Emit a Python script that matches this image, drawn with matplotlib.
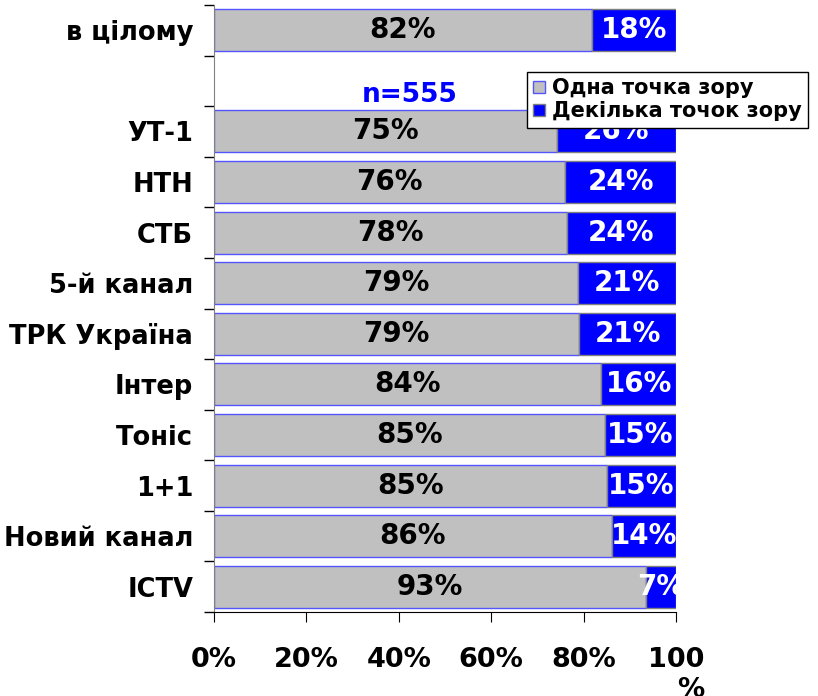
import matplotlib.pyplot as plt
import numpy as np

# Дані з діаграми
kanaly = ['в цілому', 'УТ-1', 'НТН', 'СТБ', '5-й канал', 'ТРК Україна',
          'Інтер', 'Тоніс', '1+1', 'Новий канал', 'ICTV']
odna = [81.8, 74.2, 76.0, 76.4, 78.8, 79.0, 83.8, 84.6, 85.1, 86.1, 93.5]
dekilka = [18.2, 25.8, 24.0, 23.6, 21.2, 21.0, 16.2, 15.4, 14.9, 13.9, 6.5]
pidpys_odna = ['82%', '75%', '76%', '78%', '79%', '79%', '84%', '85%', '85%', '86%', '93%']
pidpys_dek = ['18%', '26%', '24%', '24%', '21%', '21%', '16%', '15%', '15%', '14%', '7%']
xticks = [0, 20, 40, 60, 80, 100]
xlabels = ['0%', '20%', '40%', '60%', '80%', '100\n%']

plt.rcParams['font.family'] = 'DejaVu Sans'
plt.rcParams['font.weight'] = 'bold'

fig = plt.figure(figsize=(8.18, 6.96), dpi=100)
ax = fig.add_axes([214 / 818, 1 - 612 / 696, 462 / 818, 607 / 696])

# перший рядок окремо, далі пропуск
poz = np.array([0] + list(range(2, 12)))

ax.barh(poz, odna, height=0.83, color='#C0C0C0', edgecolor='#5555ff', linewidth=1,
        label='Одна точка зору')
ax.barh(poz, dekilka, left=odna, height=0.83, color='#0000FF', edgecolor='#808080',
        linewidth=1, label='Декілька точок зору')

for i in range(len(kanaly)):
    ax.text(odna[i] / 2, poz[i], pidpys_odna[i], ha='center', va='center',
            fontsize=20, fontweight='bold', color='black', clip_on=True)
    ax.text(odna[i] + dekilka[i] / 2, poz[i], pidpys_dek[i], ha='center', va='center',
            fontsize=20, fontweight='bold', color='white', clip_on=True)

ax.text(42.4, 1.28, 'n=555', ha='center', va='center', fontsize=19,
        fontweight='bold', color='#0000FF')

ax.set_xlim(0, 100)
ax.set_ylim(11.5, -0.5)
ax.set_yticks(poz)
ax.set_yticklabels(kanaly, fontsize=18.5, fontweight='bold')
ax.set_yticks(np.arange(-0.5, 12, 1), minor=True)
ax.tick_params(axis='y', which='major', length=0, pad=15)
ax.tick_params(axis='y', which='minor', length=7, width=1)
ax.set_xticks(xticks)
ax.set_xticklabels(xlabels, fontsize=19.5, fontweight='bold', va='top', multialignment='right')
ax.tick_params(axis='x', length=7, pad=18)

ax.spines['top'].set_visible(False)
ax.spines['right'].set_visible(False)
ax.spines['left'].set_color('#808080')

leg = fig.legend(loc='upper left', bbox_to_anchor=(527 / 818, 1 - 72 / 696),
                 frameon=True, fancybox=False, edgecolor='black', framealpha=1,
                 prop={'size': 15, 'weight': 'bold'}, handlelength=0.55,
                 handleheight=0.55, handletextpad=0.35, borderpad=0.3,
                 labelspacing=0.15, borderaxespad=0)
leg.get_frame().set_linewidth(1)
leg.set_zorder(10)

plt.savefig('out.png', dpi=100)
